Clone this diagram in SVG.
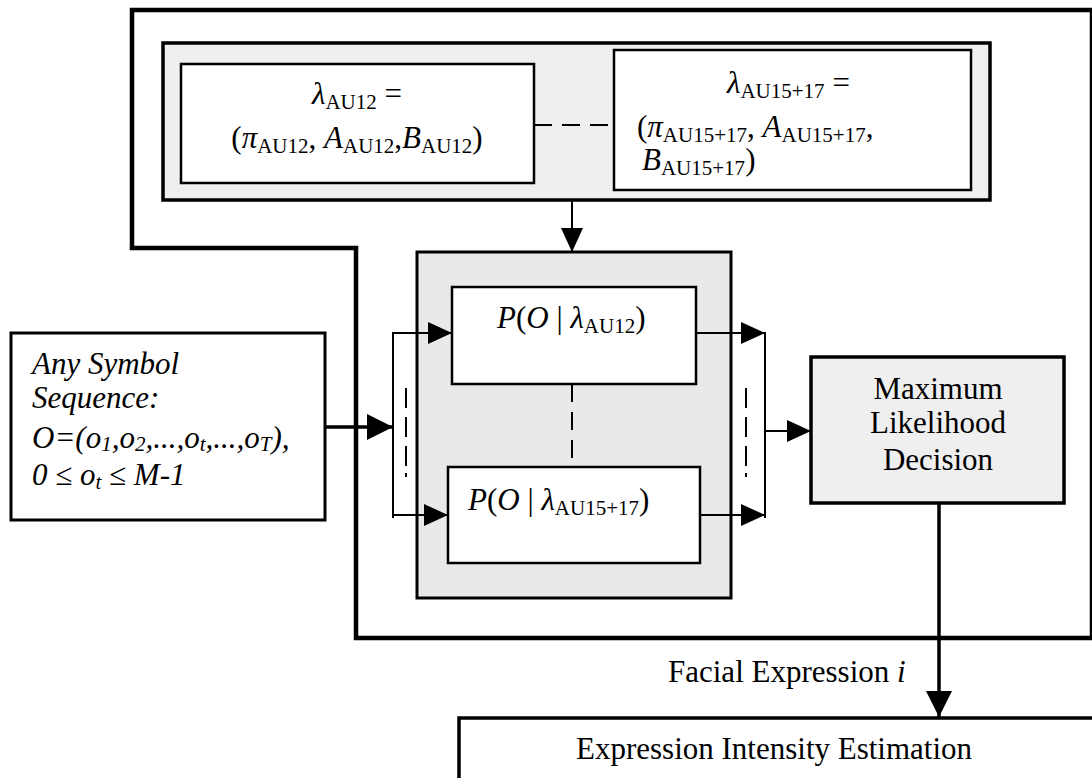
<svg xmlns="http://www.w3.org/2000/svg" width="1092" height="778" viewBox="0 0 1092 778">
<style>
  text { font-family: "Liberation Serif", "Times New Roman", serif; font-size: 31px; fill: #000; }
  .i { font-style: italic; }
  .s { font-size: 21px; }
  .box { fill: #fff; stroke: #000; stroke-width: 2.5; }
  .gbox { fill: #efefef; stroke: #000; stroke-width: 3.5; }
  .ln { fill: none; stroke: #000; stroke-width: 2; }
  .tk { fill: none; stroke: #000; stroke-width: 3.5; }
  .dash { fill: none; stroke: #000; stroke-width: 2; stroke-dasharray: 18 10; }
  .dd { fill: none; stroke: #000; stroke-width: 2; stroke-dasharray: 20 9 20 9 20 7 4 100; }
</style>
<defs>
  <marker id="ah" markerUnits="userSpaceOnUse" markerWidth="24" markerHeight="24" viewBox="0 0 24 24" refX="24" refY="12" orient="auto">
    <path d="M0,1 L24,12 L0,23 Z" fill="#000"/>
  </marker>
  <marker id="ahb" markerUnits="userSpaceOnUse" markerWidth="26" markerHeight="26" viewBox="0 0 26 26" refX="26" refY="13" orient="auto">
    <path d="M0,0 L26,13 L0,26 Z" fill="#000"/>
  </marker>
</defs>

<g id="outer-frame">
  <path d="M132,10 H1092 V638 H356 V248 H132 Z" fill="none" stroke="#000" stroke-width="4.5"/>
</g>

<g id="hmm-models">
  <rect x="163" y="43" width="827" height="157" class="gbox"/>
</g>

<g id="model-au12">
  <rect x="181" y="64" width="353" height="119" class="box"/>
  <text x="357" y="104" text-anchor="middle"><tspan class="i">λ</tspan><tspan class="s" dy="5">AU12</tspan><tspan dy="-5"> =</tspan></text>
  <text x="357" y="148" text-anchor="middle">(<tspan class="i">π</tspan><tspan class="s" dy="5">AU12</tspan><tspan dy="-5">, </tspan><tspan class="i">A</tspan><tspan class="s" dy="5">AU12</tspan><tspan dy="-5">,</tspan><tspan class="i">B</tspan><tspan class="s" dy="5">AU12</tspan><tspan dy="-5">)</tspan></text>
</g>

<g id="model-au1517">
  <rect x="614" y="50" width="357" height="140" class="box"/>
  <text x="727" y="93"><tspan class="i">λ</tspan><tspan class="s" dy="5">AU15+17</tspan><tspan dy="-5"> =</tspan></text>
  <text x="637" y="137">(<tspan class="i">π</tspan><tspan class="s" dy="5">AU15+17</tspan><tspan dy="-5">, </tspan><tspan class="i">A</tspan><tspan class="s" dy="5">AU15+17</tspan><tspan dy="-5">,</tspan></text>
  <text x="642" y="170"><tspan class="i">B</tspan><tspan class="s" dy="5">AU15+17</tspan><tspan dy="-5">)</tspan></text>
</g>

<g id="likelihood-block">
  <rect x="417" y="252" width="314" height="346" fill="#e9e9e9" stroke="#000" stroke-width="3"/>
</g>

<g id="p-au12">
  <rect x="452" y="287" width="244" height="97" class="box"/>
  <text x="497" y="328"><tspan class="i">P</tspan>(<tspan class="i">O</tspan> | <tspan class="i">λ</tspan><tspan class="s" dy="5">AU12</tspan><tspan dy="-5">)</tspan></text>
</g>

<g id="p-au1517">
  <rect x="448" y="467" width="252" height="96" class="box"/>
  <text x="468" y="510"><tspan class="i">P</tspan>(<tspan class="i">O</tspan> | <tspan class="i">λ</tspan><tspan class="s" dy="5">AU15+17</tspan><tspan dy="-5">)</tspan></text>
</g>

<g id="input-sequence">
  <rect x="11" y="333" width="314" height="187" fill="#fff" stroke="#000" stroke-width="3"/>
  <text x="32" y="374" class="i">Any Symbol</text>
  <text x="32" y="408" class="i">Sequence:</text>
  <text x="32" y="448" class="i">O=(o<tspan class="s" dy="3">1</tspan><tspan dy="-3">,o</tspan><tspan class="s" dy="3">2</tspan><tspan dy="-3">,...,o</tspan><tspan class="s" dy="3">t</tspan><tspan dy="-3">,...,o</tspan><tspan class="s" dy="3">T</tspan><tspan dy="-3">),</tspan></text>
  <text x="32" y="485" class="i">0 ≤ o<tspan class="s" dy="4">t</tspan><tspan dy="-4"> ≤ M-1</tspan></text>
</g>

<g id="ml-decision">
  <rect x="811" y="357" width="253" height="146" class="gbox"/>
  <text x="938" y="399" text-anchor="middle">Maximum</text>
  <text x="938" y="433" text-anchor="middle">Likelihood</text>
  <text x="938" y="470" text-anchor="middle">Decision</text>
</g>

<g id="intensity-estimation">
  <rect x="459" y="718" width="700" height="100" fill="#fff" stroke="#000" stroke-width="3.5"/>
  <text x="576" y="759">Expression Intensity Estimation</text>
</g>

<g id="connectors">
  <line x1="534" y1="125" x2="614" y2="125" class="dash"/>
  <line x1="572" y1="200" x2="572" y2="252" class="ln" marker-end="url(#ah)"/>
  <line x1="325" y1="427" x2="393" y2="427" class="tk" marker-end="url(#ahb)"/>
  <line x1="393" y1="332" x2="393" y2="518" class="ln"/>
  <line x1="392" y1="333" x2="452" y2="333" class="ln" marker-end="url(#ah)"/>
  <line x1="392" y1="515" x2="448" y2="515" class="ln" marker-end="url(#ah)"/>
  <line x1="406" y1="388" x2="406" y2="478" class="dd"/>
  <line x1="572" y1="384" x2="572" y2="467" class="dash"/>
  <line x1="696" y1="333" x2="765" y2="333" class="ln" marker-end="url(#ah)"/>
  <line x1="700" y1="515" x2="765" y2="515" class="ln" marker-end="url(#ah)"/>
  <line x1="765" y1="332" x2="765" y2="518" class="ln"/>
  <line x1="746" y1="388" x2="746" y2="478" class="dd"/>
  <line x1="765" y1="431" x2="811" y2="431" class="ln" marker-end="url(#ah)"/>
  <line x1="939" y1="503" x2="939" y2="717" class="tk" marker-end="url(#ahb)"/>
  <text x="668" y="682">Facial Expression <tspan class="i">i</tspan></text>
</g>
</svg>
